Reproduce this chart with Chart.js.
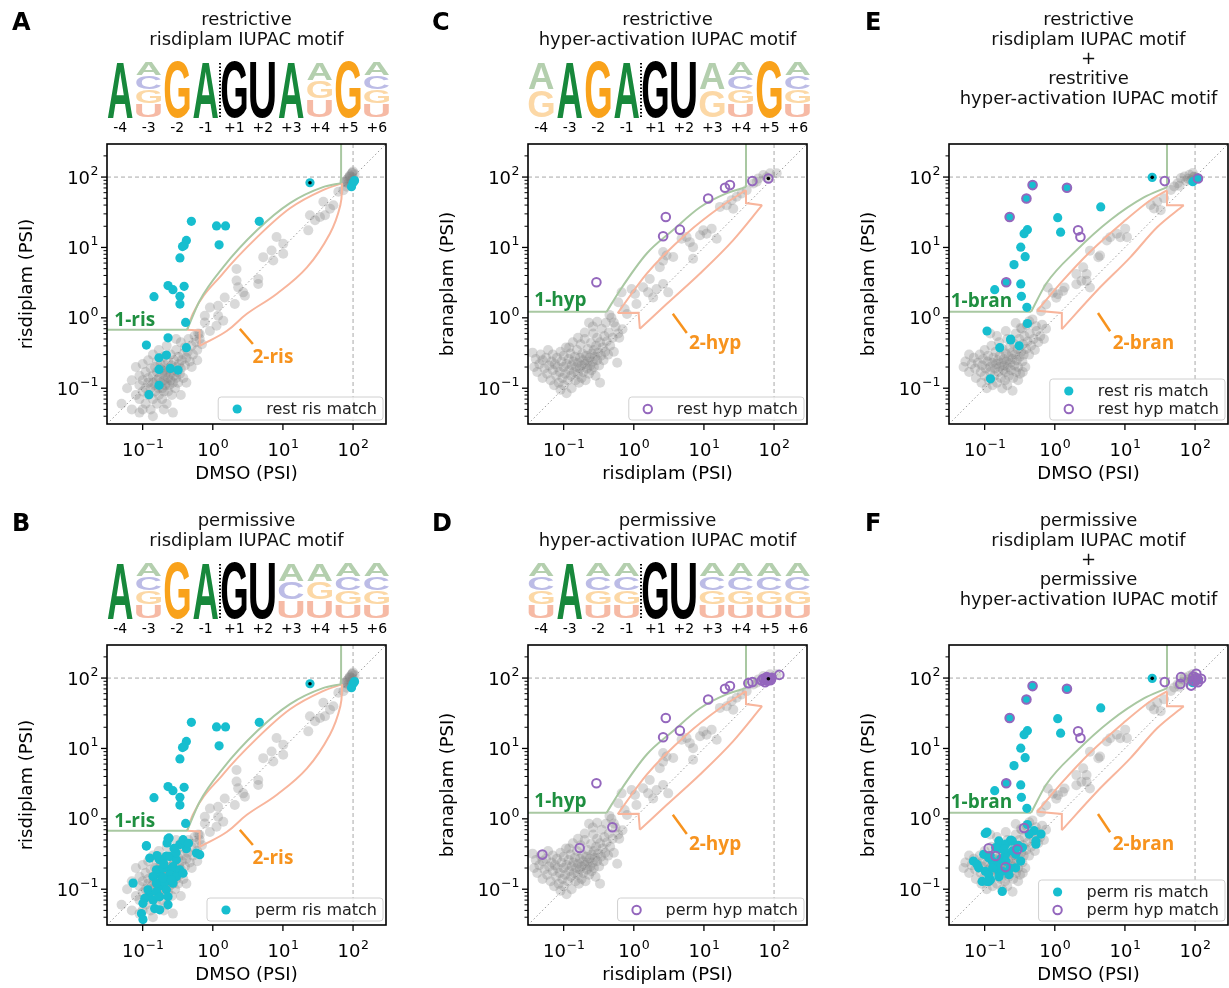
<!DOCTYPE html>
<html>
<head>
<meta charset="utf-8">
<script src="https://cdn.jsdelivr.net/npm/chart.js@4.4.1/dist/chart.umd.min.js"></script>
<style>
  body { margin: 0; background: #fff; }
  canvas { position: absolute; }
</style>
</head>
<body>
<script>
// axis range shared by every panel (PSI, log scale)
var AX_MIN = 0.031;
var AX_MAX = 295;

var positions = ['-4', '-3', '-2', '-1', '+1', '+2', '+3', '+4', '+5', '+6'];

// IUPAC motifs, one string of allowed bases per position
var logoRestRis = ['A', 'ACGU', 'G', 'A', 'G', 'U', 'A', 'AGU', 'G', 'ACGU'];
var logoPermRis = ['A', 'ACGU', 'G', 'A', 'G', 'U', 'ACU', 'AGU', 'ACGU', 'ACGU'];
var logoRestHyp = ['AG', 'A', 'G', 'A', 'G', 'U', 'AG', 'ACGU', 'G', 'ACGU'];
var logoPermHyp = ['ACGU', 'A', 'ACGU', 'ACGU', 'G', 'U', 'ACGU', 'ACGU', 'ACGU', 'ACGU'];

// all exons, DMSO vs risdiplam
var grayDmsoRis = [
  [0.05,0.06],[0.06,0.1],[0.07,0.05],[0.07,0.13],[0.08,0.08],[0.08,0.2],[0.09,0.07],[0.09,0.11],[0.09,0.15],[0.1,0.05],
  [0.1,0.09],[0.1,0.13],[0.1,0.22],[0.11,0.06],[0.11,0.1],[0.11,0.17],[0.12,0.08],[0.12,0.12],[0.12,0.14],[0.12,0.25],
  [0.13,0.05],[0.13,0.1],[0.13,0.19],[0.14,0.07],[0.14,0.12],[0.14,0.15],[0.14,0.3],[0.15,0.09],[0.15,0.11],[0.15,0.2],
  [0.16,0.06],[0.16,0.13],[0.16,0.17],[0.16,0.24],[0.17,0.08],[0.17,0.1],[0.17,0.14],[0.17,0.35],[0.18,0.12],[0.18,0.19],
  [0.18,0.22],[0.19,0.07],[0.19,0.1],[0.19,0.16],[0.2,0.09],[0.2,0.13],[0.2,0.18],[0.2,0.28],[0.21,0.11],[0.21,0.15],
  [0.21,0.21],[0.22,0.06],[0.22,0.12],[0.22,0.17],[0.22,0.4],[0.23,0.09],[0.23,0.14],[0.23,0.24],[0.24,0.11],[0.24,0.19],
  [0.25,0.13],[0.25,0.16],[0.25,0.3],[0.26,0.08],[0.26,0.21],[0.27,0.12],[0.27,0.18],[0.28,0.15],[0.28,0.25],[0.29,0.1],
  [0.3,0.14],[0.3,0.2],[0.3,0.35],[0.31,0.17],[0.32,0.12],[0.32,0.28],[0.33,0.22],[0.34,0.16],[0.35,0.19],[0.35,0.45],
  [0.36,0.25],[0.38,0.3],[0.38,0.14],[0.4,0.21],[0.4,0.38],[0.42,0.27],[0.44,0.33],[0.45,0.5],[0.47,0.24],[0.5,0.4],
  [0.52,0.3],[0.55,0.55],[0.58,0.45],[0.6,0.35],[0.62,0.6],[0.65,0.5],[0.7,0.42],[0.3,0.5],[0.27,0.045],[0.2,0.05],
  [0.35,0.08],[0.42,0.12],[0.5,0.2],[0.6,0.25],[0.14,0.04],[0.09,0.045],[0.77,0.86],[1.13,0.77],[0.65,0.59],[0.91,0.65],
  [0.77,1.07],[0.91,1.4],[1.19,1.48],[1.48,1.95],[1.19,1.07],[1.41,0.91],[2.18,4.95],[2.18,3.38],[2.3,2.71],[2.71,2.3],
  [2.87,2.06],[2.06,1.57],[4.45,3.56],[4.45,3.03],[5.24,7.28],[6.89,9.06],[7.28,6.52],[8.12,14.1],[10.1,11.3],[10.1,8.12],
  [23,17.5],[24.3,28.7],[28.7,24.3],[33.8,27.1],[37.7,44.5],[39.8,28.7],[46.9,35.6],[52.4,39.8],[61.7,61.7],[72.8,65.2],
  [81.2,72.8],[90.6,101],[95.5,112],[100,120],[85,81],[77,86],[85,95],[90,105],[95,88],[100,98],
  [105,110],[80,90],[92,80],[98,115],[88,100],[75,85],[102,92]
];

// all exons, risdiplam vs branaplam
var grayRisBran = [
  [0.036,0.32],[0.038,0.2],[0.04,0.26],[0.042,0.17],[0.045,0.22],[0.047,0.3],[0.05,0.14],[0.05,0.25],[0.053,0.19],[0.056,0.27],
  [0.058,0.16],[0.06,0.35],[0.062,0.21],[0.065,0.13],[0.067,0.24],[0.07,0.18],[0.07,0.3],[0.073,0.11],[0.075,0.22],[0.078,0.15],
  [0.08,0.27],[0.082,0.2],[0.085,0.12],[0.088,0.17],[0.09,0.33],[0.09,0.095],[0.093,0.24],[0.096,0.14],[0.1,0.2],[0.1,0.29],
  [0.1,0.11],[0.105,0.16],[0.108,0.38],[0.11,0.22],[0.11,0.085],[0.115,0.13],[0.118,0.26],[0.12,0.18],[0.125,0.31],[0.128,0.15],
  [0.13,0.21],[0.13,0.1],[0.135,0.45],[0.138,0.24],[0.14,0.17],[0.145,0.28],[0.148,0.13],[0.15,0.2],[0.155,0.35],[0.16,0.23],
  [0.16,0.16],[0.165,0.12],[0.17,0.27],[0.17,0.19],[0.175,0.42],[0.18,0.21],[0.18,0.14],[0.185,0.31],[0.19,0.25],[0.19,0.17],
  [0.2,0.5],[0.2,0.22],[0.205,0.13],[0.21,0.29],[0.215,0.19],[0.22,0.36],[0.22,0.24],[0.23,0.16],[0.235,0.27],[0.24,0.21],
  [0.245,0.44],[0.25,0.31],[0.25,0.18],[0.26,0.24],[0.265,0.6],[0.27,0.35],[0.27,0.2],[0.28,0.28],[0.285,0.15],[0.29,0.4],
  [0.3,0.25],[0.3,0.52],[0.31,0.32],[0.32,0.21],[0.33,0.45],[0.33,0.12],[0.34,0.29],[0.35,0.7],[0.36,0.38],[0.37,0.25],
  [0.38,0.55],[0.39,0.33],[0.4,0.85],[0.41,0.46],[0.43,0.3],[0.44,0.62],[0.46,0.4],[0.48,1.0],[0.5,0.52],[0.52,0.33],
  [0.55,0.75],[0.58,0.23],[0.6,0.6],[0.2,0.62],[0.16,0.52],[0.26,0.75],[0.3,0.88],[0.45,1.1],[0.23,0.85],[0.12,0.38],
  [0.67,2.3],[0.93,2.57],[1.04,2.18],[1.36,2.72],[1.6,2.3],[1.89,1.95],[2.11,2.57],[2.62,3.03],[3.09,2.3],[1.69,3.57],
  [2.35,5.23],[2.62,6.5],[2.93,7.7],[3.65,7.3],[2.62,8.6],[4.8,13.3],[5.66,14.1],[6.3,11.9],[7.0,10.1],[7.0,6.9],
  [8.8,14.9],[9.8,17.5],[10.9,15.7],[12.9,18.5],[15.2,13.3],[16.9,37.7],[21.1,39.8],[26.2,35.6],[24.8,47],[29.3,52.4],
  [34.5,58.5],[40.7,65.3],[50.7,81.2],[59.7,95.8],[70.4,107],[87.7,113],[109,113],[78.5,99],[56.6,85.9],[1.09,1.57],
  [0.74,1.33],[0.6,1.66],[0.69,0.69],[0.52,0.86],[0.8,1.13],[0.62,0.52]
];

// all exons, DMSO vs branaplam
var grayDmsoBran = [
  [0.05,0.2],[0.053,0.24],[0.06,0.17],[0.065,0.22],[0.07,0.27],[0.073,0.19],[0.075,0.14],[0.08,0.23],[0.085,0.3],[0.088,0.17],
  [0.09,0.12],[0.092,0.21],[0.095,0.26],[0.1,0.15],[0.1,0.35],[0.103,0.19],[0.107,0.1],[0.11,0.24],[0.112,0.29],[0.115,0.13],
  [0.12,0.2],[0.12,0.17],[0.125,0.4],[0.128,0.23],[0.13,0.11],[0.133,0.27],[0.137,0.15],[0.14,0.19],[0.143,0.33],[0.147,0.22],
  [0.15,0.12],[0.153,0.25],[0.157,0.17],[0.16,0.45],[0.162,0.2],[0.165,0.29],[0.17,0.14],[0.173,0.23],[0.178,0.099],[0.18,0.36],
  [0.183,0.18],[0.187,0.26],[0.19,0.21],[0.195,0.13],[0.2,0.31],[0.2,0.17],[0.205,0.24],[0.21,0.5],[0.215,0.2],[0.22,0.28],
  [0.222,0.15],[0.228,0.38],[0.232,0.23],[0.238,0.18],[0.243,0.32],[0.25,0.26],[0.255,0.14],[0.26,0.43],[0.265,0.21],[0.272,0.3],
  [0.277,0.6],[0.28,0.17],[0.287,0.25],[0.295,0.36],[0.3,0.2],[0.31,0.5],[0.315,0.28],[0.32,0.16],[0.33,0.33],[0.34,0.7],
  [0.345,0.24],[0.35,0.42],[0.36,0.3],[0.37,0.55],[0.38,0.2],[0.39,0.36],[0.4,0.8],[0.41,0.46],[0.43,0.3],[0.44,0.6],
  [0.46,0.4],[0.48,0.95],[0.5,0.5],[0.52,0.35],[0.55,0.65],[0.58,0.45],[0.62,0.55],[0.66,0.8],[0.7,0.5],[0.75,0.7],
  [0.277,0.845],[0.327,0.718],[0.432,0.893],[0.538,0.759],[0.2,0.65],[0.15,0.55],[0.25,0.092],[0.21,0.11],[0.3,0.13],[0.06,0.3],
  [0.12,0.6],[0.35,0.17],
  [0.794,2.69],[0.937,2.28],[1.11,2.16],[1.31,2.41],[1.38,2.69],[1.05,1.93],[2.03,3.0],[2.4,3.35],[2.84,4.18],[2.54,5.21],
  [3.17,9.0],[4.18,7.25],[4.42,7.66],[5.52,12.6],[6.17,14.0],[7.69,15.7],[8.59,14.0],[10.1,18.5],[10.7,14.0],[23.3,40],
  [26,35.8],[29,44.7],[32.4,33.9],[36.2,49.9],[45.2,65.6],[56.5,81.8],[63.1,96.6],[70.5,102],[83.2,108],[92.9,114],
  [98.2,102],[50.5,73.3],[2.03,4.18],[2.84,3.35],[3.17,2.69],[0.752,1.55],[0.637,1.24],[80,95],[88,90],[95,100],
  [105,98],[75,88],[60,75]
];

// exons matching the restrictive / permissive risdiplam motif (DMSO vs risdiplam)
var restRis = [
  [0.495,23.5],[1.13,20.2],[1.52,20.2],[4.6,23.5],[0.42,12.6],[0.39,10.7],[0.37,10.3],[1.23,10.9],[0.34,7.1],[0.23,2.87],
  [0.27,2.51],[0.39,2.8],[0.145,2.0],[0.34,2.02],[0.34,1.57],[0.41,0.86],[0.23,0.52],[100,83],[95,73],[105,89],
  [24.3,83],[0.113,0.41],[0.42,0.377],[0.171,0.271],[0.218,0.296],[0.171,0.185],[0.248,0.191],[0.32,0.181],[0.171,0.11],[0.123,0.081]
];
var permRisExtra = [
  [0.113,0.415],[0.223,0.454],[0.238,0.535],[0.338,0.43],[0.377,0.506],[0.585,0.327],[0.652,0.309],[0.126,0.277],[0.175,0.262],[0.243,0.292],
  [0.303,0.262],[0.157,0.189],[0.195,0.199],[0.271,0.21],[0.338,0.189],[0.141,0.151],[0.185,0.151],[0.243,0.16],[0.303,0.151],[0.377,0.169],
  [0.073,0.122],[0.157,0.122],[0.206,0.122],[0.271,0.122],[0.119,0.098],[0.157,0.092],[0.218,0.098],[0.107,0.074],[0.141,0.07],[0.175,0.078],
  [0.23,0.078],[0.101,0.063],[0.148,0.053],[0.175,0.051],[0.23,0.06],[0.096,0.045],[0.101,0.037],[0.195,0.144],[0.257,0.136],[0.3,0.33],
  [0.45,0.45],[0.2,0.23],[0.16,0.3],[0.28,0.38]
];

// exons matching the hyper-activation motif (risdiplam vs branaplam)
var restHyp = [
  [0.293,3.2],[2.62,14.4],[2.86,27.1],[4.54,17.9],[11.5,49.5],[20,70.5],[23.5,76.9],[49,87.7],[83,95.6]
];
var permHypExtra = [
  [0.0497,0.31],[0.169,0.385],[0.495,0.76],[43,84.7],[66.7,92.5],[70.5,97.7],[74.4,87.5],[78.5,103],[87.7,97.7],[119,111],
  [80,92],[85,100],[90,95],[76,98],[82,99],[88,93],[92,101],[79,95],[84,96]
];

// both motif sets on DMSO vs branaplam
var restRisBran = [
  [0.482,76.9],[0.394,49.5],[0.227,27.1],[1.49,70.5],[0.407,17.9],[0.365,15.7],[1.1,26.5],[1.21,16.5],[4.52,37.7],[0.327,10.1],
  [0.378,7.4],[0.262,5.7],[0.139,2.51],[0.327,3.03],[0.334,2.02],[0.4,1.41],[0.407,0.83],[0.108,0.65],[0.235,0.5],[24.5,99],
  [93,86],[110,95.5],[0.203,3.2],[0.164,0.377],[0.235,0.485],[0.31,0.4],[0.121,0.136]
];
var permRisBranExtra = [
  [0.102,0.621],[0.509,0.678],[0.636,0.607],[0.538,0.436],[0.069,0.251],[0.082,0.201],[0.102,0.18],[0.114,0.129],[0.178,0.093],[0.092,0.129],
  [0.159,0.486],[0.199,0.436],[0.248,0.486],[0.277,0.313],[0.327,0.251],[0.128,0.251],[0.159,0.18],[0.222,0.161],[0.114,0.28],[0.097,0.313],
  [0.199,0.313],[0.143,0.39],[0.346,0.39],[0.277,0.201],[0.114,0.161],[0.108,0.129],[0.178,0.18],[0.078,0.225],[0.432,0.607],[0.538,0.486],
  [0.15,0.22],[0.13,0.2],[0.17,0.27],[0.2,0.25],[0.25,0.35],[0.3,0.42],[0.12,0.3],[0.19,0.37],[0.23,0.2],[0.16,0.15]
];
var restHypBran = [
  [0.482,76.9],[0.394,49.5],[0.227,27.1],[1.49,70.5],[2.15,17.5],[2.32,14.1],[37,87.7],[110,95.5],[0.203,3.2]
];
var permHypBranExtra = [
  [0.365,0.74],[0.114,0.382],[0.143,0.296],[0.293,0.369],[0.199,0.206],[63.1,103],[61.7,82.6],[92.9,92.2],[104,115],[122,97.5],
  [87.9,78.2],[110,87.3],[95,105],[100,90],[105,100]
];

// region outlines: straight pieces and curved pieces (green: class 1, orange: class 2)
var risGreenLines = [[[0.031,0.675],[0.43,0.675]], [[67.5,82],[67.5,295]]];
var risGreenCurves = [[[0.43,0.675],[0.65,1.75],[1.39,5.18],[4.26,17.5],[12.6,42.6],[37.2,71.9],[67.5,82]]];
var risOrangeLines = [[[0.43,0.675],[0.65,0.66],[0.65,0.4]]];
var risOrangeCurves = [
  [[0.65,0.4],[1.58,0.65],[3.06,1.14],[8.2,2.2],[22,5.2],[46.9,15.8],[66,40],[70,82]],
  [[0.43,0.675],[0.518,1.14],[1.39,4.26],[4.26,13.9],[12.6,36],[37.2,65.2],[70,82]]
];
var hypGreenLines = [[[0.031,1.22],[0.41,1.22]], [[39.8,72],[39.8,295]]];
var hypGreenCurves = [[[0.41,1.22],[0.63,2.43],[1.53,8.2],[3.6,17.5],[8.8,37.2],[21.3,59],[39.8,72]]];
var hypOrangeLines = [[[39.8,65.2],[39.8,42.7],[67.6,39.8]], [[1.22,0.7],[1.17,1.18],[0.59,1.17]]];
var hypOrangeCurves = [
  [[0.59,1.17],[1.53,4.26],[5.7,15.8],[16.9,37.2],[39.8,65.2]],
  [[1.22,0.7],[2.96,1.58],[8.8,4.26],[26,12.6],[67.6,39.8]]
];
var branGreenLines = [[[0.031,1.22],[0.46,1.22]], [[39.8,72],[39.8,295]]];
var branGreenCurves = [[[0.46,1.22],[0.76,3.1],[2.04,9.1],[6.2,24.5],[18.6,51.3],[39.8,72]]];
var branOrangeLines = [[[39.8,64.6],[39.8,39.8],[69,39.8]], [[1.26,0.69],[1.26,1.17],[0.56,1.26]]];
var branOrangeCurves = [
  [[0.56,1.26],[1.3,3.37],[3.16,8.6],[9.5,23],[23.3,47.2],[39.8,64.6]],
  [[1.26,0.69],[3.95,2.41],[12,7.3],[29,19.5],[69,39.8]]
];

var majorTicks = [0.1, 1, 10, 100];

var FONT = '"DejaVu Sans", sans-serif';
Chart.defaults.font.family = FONT;
Chart.defaults.color = '#000';

var TEAL = '#17becf';
var PURPLE = '#9467bd';
var GREEN_LINE = '#a9c8a2';
var ORANGE_LINE = '#f8b59c';
var GREEN_TEXT = '#1f8f40';
var ORANGE_TEXT = '#f7931e';

var solidColor = { A: '#17883b', C: '#3b3bd6', G: '#f9a21b', U: '#e8502a' };
var fadedColor = { A: '#b4cfae', C: '#bcbce6', G: '#fcd8a6', U: '#f6baa5' };

function isPow10(v) {
    var e = Math.log10(v);
    return Math.abs(e - Math.round(e)) < 1e-6;
}

function minorAndMajorTicks() {
    var list = [];
    for (var e = -2; e <= 2; e++) {
        for (var m = 1; m <= 9; m++) {
            var v = m * Math.pow(10, e);
            if (v >= AX_MIN && v <= AX_MAX) list.push(v);
        }
    }
    return list;
}

// "10" with a raised exponent, the way mathtext sets log tick labels
function drawPowerLabel(ctx, value, x, baseline, align) {
    var e = Math.round(Math.log10(value));
    var expText = e < 0 ? '\u2212' + (-e) : String(e);
    ctx.font = '18px ' + FONT;
    var wBase = ctx.measureText('10').width;
    ctx.font = '12.5px ' + FONT;
    var wExp = ctx.measureText(expText).width;
    var start = align === 'center' ? x - (wBase + wExp) / 2 : x - wBase - wExp;
    ctx.textAlign = 'left';
    ctx.textBaseline = 'alphabetic';
    ctx.font = '18px ' + FONT;
    ctx.fillText('10', start, baseline);
    ctx.font = '12.5px ' + FONT;
    ctx.fillText(expText, start + wBase + 0.5, baseline - 8.5);
}

// region outlines and their labels, label anchors in data units
var regionSets = {
    ris: { greenLines: risGreenLines, greenCurves: risGreenCurves, orangeLines: risOrangeLines, orangeCurves: risOrangeCurves,
           name1: '1-ris', name2: '2-ris', at1: [0.077, 0.9], at2: [7.2, 0.268], leader: [[2.43, 0.697], [3.73, 0.425]] },
    hyp: { greenLines: hypGreenLines, greenCurves: hypGreenCurves, orangeLines: hypOrangeLines, orangeCurves: hypOrangeCurves,
           name1: '1-hyp', name2: '2-hyp', at1: [0.09, 1.75], at2: [14.4, 0.425], leader: [[3.6, 1.14], [5.7, 0.61]] },
    bran: { greenLines: branGreenLines, greenCurves: branGreenCurves, orangeLines: branOrangeLines, orangeCurves: branOrangeCurves,
           name1: '1-bran', name2: '2-bran', at1: [0.09, 1.68], at2: [18.4, 0.434], leader: [[4.13, 1.17], [6.15, 0.645]] }
};

// draws one stretched glyph into the box (x, yTop, w, h)
function drawGlyph(ctx, ch, x, yTop, w, h, color) {
    ctx.save();
    ctx.font = 'bold 100px "Liberation Sans", "DejaVu Sans", sans-serif';
    ctx.textBaseline = 'alphabetic';
    ctx.textAlign = 'left';
    var m = ctx.measureText(ch);
    var gw = m.actualBoundingBoxLeft + m.actualBoundingBoxRight;
    var gh = m.actualBoundingBoxAscent + m.actualBoundingBoxDescent;
    ctx.translate(x, yTop);
    ctx.scale(w / gw, h / gh);
    ctx.fillStyle = color;
    ctx.fillText(ch, m.actualBoundingBoxLeft, m.actualBoundingBoxAscent);
    ctx.restore();
}

function drawLogo(ctx, logo, left) {
    var colW = 28.5, top = 62, bottom = 118;
    var h = bottom - top;
    logo.forEach(function (bases, i) {
        var x = left + i * colW;
        var n = bases.length;
        var slot = h / n;
        bases.split('').forEach(function (b, k) {
            var color;
            if (n > 1) color = fadedColor[b];
            else if (i === 4 || i === 5) color = '#000';
            else color = solidColor[b];
            drawGlyph(ctx, b, x + 1.8, top + k * slot + (n > 1 ? 0.8 : 0), colW - 3.6, slot - (n > 1 ? 1.6 : 0), color);
        });
        ctx.fillStyle = '#000';
        ctx.font = '14px ' + FONT;
        ctx.textAlign = 'center';
        ctx.textBaseline = 'middle';
        ctx.fillText(positions[i], x + colW / 2, 128);
    });
    // exon / intron boundary
    ctx.save();
    ctx.strokeStyle = '#000';
    ctx.lineWidth = 2;
    ctx.setLineDash([1.5, 2]);
    ctx.beginPath();
    ctx.moveTo(left + 4 * colW, top + 1);
    ctx.lineTo(left + 4 * colW, bottom);
    ctx.stroke();
    ctx.restore();
}

var panelDecor = {
    id: 'panelDecor',
    beforeDatasetsDraw: function (chart) {
        var ctx = chart.ctx, a = chart.chartArea, x = chart.scales.x, y = chart.scales.y;
        ctx.save();
        ctx.beginPath();
        ctx.rect(a.left, a.top, a.width, a.height);
        ctx.clip();
        ctx.strokeStyle = '#9a9a9a';
        ctx.lineWidth = 1;
        ctx.setLineDash([1.5, 2.5]);
        ctx.beginPath();
        ctx.moveTo(x.getPixelForValue(AX_MIN), y.getPixelForValue(AX_MIN));
        ctx.lineTo(x.getPixelForValue(AX_MAX), y.getPixelForValue(AX_MAX));
        ctx.stroke();
        ctx.strokeStyle = '#a8a8a8';
        ctx.setLineDash([4, 3]);
        var px = x.getPixelForValue(100), py = y.getPixelForValue(100);
        ctx.beginPath();
        ctx.moveTo(px, a.top); ctx.lineTo(px, a.bottom);
        ctx.moveTo(a.left, py); ctx.lineTo(a.right, py);
        ctx.stroke();
        ctx.restore();
    },
    afterDatasetsDraw: function (chart, args, opts) {
        var ctx = chart.ctx, a = chart.chartArea, x = chart.scales.x, y = chart.scales.y;
        var reg = opts.regions;

        // region names
        ctx.save();
        ctx.font = 'bold 19px "Open Sans", ' + FONT;
        ctx.textAlign = 'center';
        ctx.textBaseline = 'middle';
        ctx.fillStyle = GREEN_TEXT;
        ctx.fillText(reg.name1, x.getPixelForValue(reg.at1[0]), y.getPixelForValue(reg.at1[1]));
        ctx.fillStyle = ORANGE_TEXT;
        ctx.fillText(reg.name2, x.getPixelForValue(reg.at2[0]), y.getPixelForValue(reg.at2[1]));
        ctx.strokeStyle = ORANGE_TEXT;
        ctx.lineWidth = 2.5;
        ctx.beginPath();
        ctx.moveTo(x.getPixelForValue(reg.leader[0][0]), y.getPixelForValue(reg.leader[0][1]));
        ctx.lineTo(x.getPixelForValue(reg.leader[1][0]), y.getPixelForValue(reg.leader[1][1]));
        ctx.stroke();
        ctx.restore();

        // legend in the lower right corner
        var items = chart.data.datasets.filter(function (d) { return d.legendKind; });
        ctx.save();
        ctx.font = '16px ' + FONT;
        var tw = 0;
        items.forEach(function (d) { tw = Math.max(tw, ctx.measureText(d.label).width); });
        var bw = 48 + tw + 6, bh = 5 + 18 * items.length;
        var bx = a.right - 3 - bw, by = a.bottom - 4 - bh;
        ctx.fillStyle = 'rgba(255,255,255,0.85)';
        ctx.strokeStyle = '#d0d0d0';
        ctx.lineWidth = 1;
        ctx.beginPath();
        ctx.roundRect(bx, by, bw, bh, 3);
        ctx.fill();
        ctx.stroke();
        items.forEach(function (d, k) {
            var cy = by + 12 + k * 18;
            ctx.beginPath();
            if (d.legendKind === 'ring') {
                ctx.arc(bx + 19, cy, 4.2, 0, Math.PI * 2);
                ctx.strokeStyle = PURPLE;
                ctx.lineWidth = 2;
                ctx.stroke();
            } else {
                ctx.arc(bx + 19, cy, 4.6, 0, Math.PI * 2);
                ctx.fillStyle = TEAL;
                ctx.fill();
            }
            ctx.fillStyle = '#222';
            ctx.textAlign = 'left';
            ctx.textBaseline = 'middle';
            ctx.fillText(d.label, bx + 48, cy + 1);
        });
        ctx.restore();

        // frame, outward tick marks and tick labels
        ctx.save();
        ctx.strokeStyle = '#000';
        ctx.fillStyle = '#000';
        ctx.lineWidth = 1.6;
        ctx.strokeRect(a.left, a.top, a.width, a.height);
        x.ticks.forEach(function (t) {
            var p = x.getPixelForValue(t.value);
            ctx.lineWidth = 1.3;
            ctx.beginPath(); ctx.moveTo(p, a.bottom); ctx.lineTo(p, a.bottom + 6); ctx.stroke();
            drawPowerLabel(ctx, t.value, p, a.bottom + 32, 'center');
        });
        y.ticks.forEach(function (t) {
            var p = y.getPixelForValue(t.value);
            var major = isPow10(t.value);
            ctx.lineWidth = major ? 1.3 : 1;
            ctx.beginPath(); ctx.moveTo(a.left - (major ? 6 : 3.5), p); ctx.lineTo(a.left, p); ctx.stroke();
            if (major) drawPowerLabel(ctx, t.value, a.left - 9, p + 6.5, 'right');
        });
        ctx.restore();
    },
    afterDraw: function (chart, args, opts) {
        var ctx = chart.ctx, a = chart.chartArea;
        ctx.save();
        ctx.fillStyle = '#000';
        ctx.font = 'bold 24px ' + FONT;
        ctx.textAlign = 'left';
        ctx.textBaseline = 'middle';
        ctx.fillText(opts.letter, opts.letterX, 24);
        ctx.font = '18px ' + FONT;
        ctx.textAlign = 'center';
        ctx.fillStyle = '#111';
        var cx = (a.left + a.right) / 2;
        opts.title.forEach(function (line, k) {
            ctx.fillText(line, cx, 20 + k * 19.9);
        });
        if (opts.logo) drawLogo(ctx, opts.logo, a.left - 1);
        ctx.restore();
    }
};

function outlineDataset(points, color, curved, monotone) {
    return { label: 'outline', data: points, order: 8, showLine: true, pointRadius: 0,
             borderColor: color, borderWidth: 2, fill: false,
             tension: curved ? 0.4 : 0, cubicInterpolationMode: monotone ? 'monotone' : 'default' };
}

function makePanel(p) {
    var canvas = document.createElement('canvas');
    canvas.width = p.w;
    canvas.height = p.h;
    canvas.style.left = p.left + 'px';
    canvas.style.top = p.top + 'px';
    document.body.appendChild(canvas);

    var reg = regionSets[p.regions];
    var datasets = [
        { label: 'all', data: p.gray, order: 9, pointRadius: 5, pointBorderWidth: 0,
          pointBackgroundColor: 'rgba(128,128,128,0.3)' }
    ];
    reg.greenLines.forEach(function (pts) { datasets.push(outlineDataset(pts, GREEN_LINE, false, false)); });
    reg.greenCurves.forEach(function (pts) { datasets.push(outlineDataset(pts, GREEN_LINE, true, true)); });
    reg.orangeLines.forEach(function (pts) { datasets.push(outlineDataset(pts, ORANGE_LINE, false, false)); });
    reg.orangeCurves.forEach(function (pts, k) {
        // the lower lens edge of the risdiplam set turns up steeply into the tip
        var mono = !(p.regions === 'ris' && k === 0);
        datasets.push(outlineDataset(pts, ORANGE_LINE, true, mono));
    });

    p.matches.forEach(function (m, k) {
        if (m.kind === 'ring') {
            datasets.push({ label: m.label, data: m.data, order: 5 - k, legendKind: 'ring', pointRadius: 4.3,
                            pointBorderWidth: 2, pointBorderColor: PURPLE, pointBackgroundColor: 'rgba(0,0,0,0)' });
        } else {
            datasets.push({ label: m.label, data: m.data, order: 5 - k, legendKind: 'dot', pointRadius: 4.6,
                            pointBorderWidth: 0, pointBackgroundColor: TEAL });
        }
    });
    datasets.push({ label: 'highlight', data: p.highlight, order: 1, pointRadius: 1.8,
                    pointBorderWidth: 0, pointBackgroundColor: '#000' });

    new Chart(canvas.getContext('2d'), {
        type: 'scatter',
        data: { datasets: datasets },
        options: {
            responsive: false,
            animation: false,
            devicePixelRatio: 1,
            events: [],
            layout: { autoPadding: false, padding: { left: 12, top: 144, right: p.w - 386, bottom: p.h - 424 - 61 } },
            plugins: {
                legend: { display: false },
                tooltip: { enabled: false },
                panelDecor: { letter: p.letter, letterX: p.letterX, title: p.title, logo: p.logo, regions: reg }
            },
            scales: {
                x: {
                    type: 'logarithmic', position: 'bottom', min: AX_MIN, max: AX_MAX,
                    afterBuildTicks: function (s) { s.ticks = majorTicks.map(function (v) { return { value: v }; }); },
                    afterFit: function (s) { s.height = 61; },
                    grid: { display: false, drawTicks: false },
                    border: { display: false },
                    ticks: { display: false },
                    title: { display: true, text: p.xTitle, color: '#000', font: { size: 18 }, padding: { top: 0, bottom: 0 } }
                },
                y: {
                    type: 'logarithmic', position: 'left', min: AX_MIN, max: AX_MAX,
                    afterBuildTicks: function (s) { s.ticks = minorAndMajorTicks().map(function (v) { return { value: v }; }); },
                    afterFit: function (s) { s.width = 95; },
                    grid: { display: false, drawTicks: false },
                    border: { display: false },
                    ticks: { display: false },
                    title: { display: true, text: p.yTitle, color: '#000', font: { size: 18 }, padding: { top: 5, bottom: 0 } }
                }
            }
        },
        plugins: [panelDecor]
    });
}

var colLeft = [0, 421, 842];
var colWidth = [421, 421, 387];
var letterX = [12, 11, 23];
var rowTop = [0, 501];
var rowHeight = [501, 487];

var panels = [
    { col: 0, row: 0, letter: 'A', title: ['restrictive', 'risdiplam IUPAC motif'], logo: logoRestRis,
      xTitle: 'DMSO (PSI)', yTitle: 'risdiplam (PSI)', gray: grayDmsoRis, regions: 'ris',
      matches: [{ label: 'rest ris match', kind: 'dot', data: restRis }], highlight: [[24.3, 83]] },
    { col: 0, row: 1, letter: 'B', title: ['permissive', 'risdiplam IUPAC motif'], logo: logoPermRis,
      xTitle: 'DMSO (PSI)', yTitle: 'risdiplam (PSI)', gray: grayDmsoRis, regions: 'ris',
      matches: [{ label: 'perm ris match', kind: 'dot', data: restRis.concat(permRisExtra) }], highlight: [[24.3, 83]] },
    { col: 1, row: 0, letter: 'C', title: ['restrictive', 'hyper-activation IUPAC motif'], logo: logoRestHyp,
      xTitle: 'risdiplam (PSI)', yTitle: 'branaplam (PSI)', gray: grayRisBran, regions: 'hyp',
      matches: [{ label: 'rest hyp match', kind: 'ring', data: restHyp }], highlight: [[83, 95.6]] },
    { col: 1, row: 1, letter: 'D', title: ['permissive', 'hyper-activation IUPAC motif'], logo: logoPermHyp,
      xTitle: 'risdiplam (PSI)', yTitle: 'branaplam (PSI)', gray: grayRisBran, regions: 'hyp',
      matches: [{ label: 'perm hyp match', kind: 'ring', data: restHyp.concat(permHypExtra) }], highlight: [[83, 97.7]] },
    { col: 2, row: 0, letter: 'E',
      title: ['restrictive', 'risdiplam IUPAC motif', '+', 'restritive', 'hyper-activation IUPAC motif'], logo: null,
      xTitle: 'DMSO (PSI)', yTitle: 'branaplam (PSI)', gray: grayDmsoBran, regions: 'bran',
      matches: [{ label: 'rest ris match', kind: 'dot', data: restRisBran },
                { label: 'rest hyp match', kind: 'ring', data: restHypBran }], highlight: [[24.5, 99]] },
    { col: 2, row: 1, letter: 'F',
      title: ['permissive', 'risdiplam IUPAC motif', '+', 'permissive', 'hyper-activation IUPAC motif'], logo: null,
      xTitle: 'DMSO (PSI)', yTitle: 'branaplam (PSI)', gray: grayDmsoBran, regions: 'bran',
      matches: [{ label: 'perm ris match', kind: 'dot', data: restRisBran.concat(permRisBranExtra) },
                { label: 'perm hyp match', kind: 'ring', data: restHypBran.concat(permHypBranExtra) }], highlight: [[24.5, 99]] }
];

panels.forEach(function (p) {
    p.left = colLeft[p.col];
    p.w = colWidth[p.col];
    p.top = rowTop[p.row];
    p.h = rowHeight[p.row];
    p.letterX = letterX[p.col];
    makePanel(p);
});
</script>
</body>
</html>
